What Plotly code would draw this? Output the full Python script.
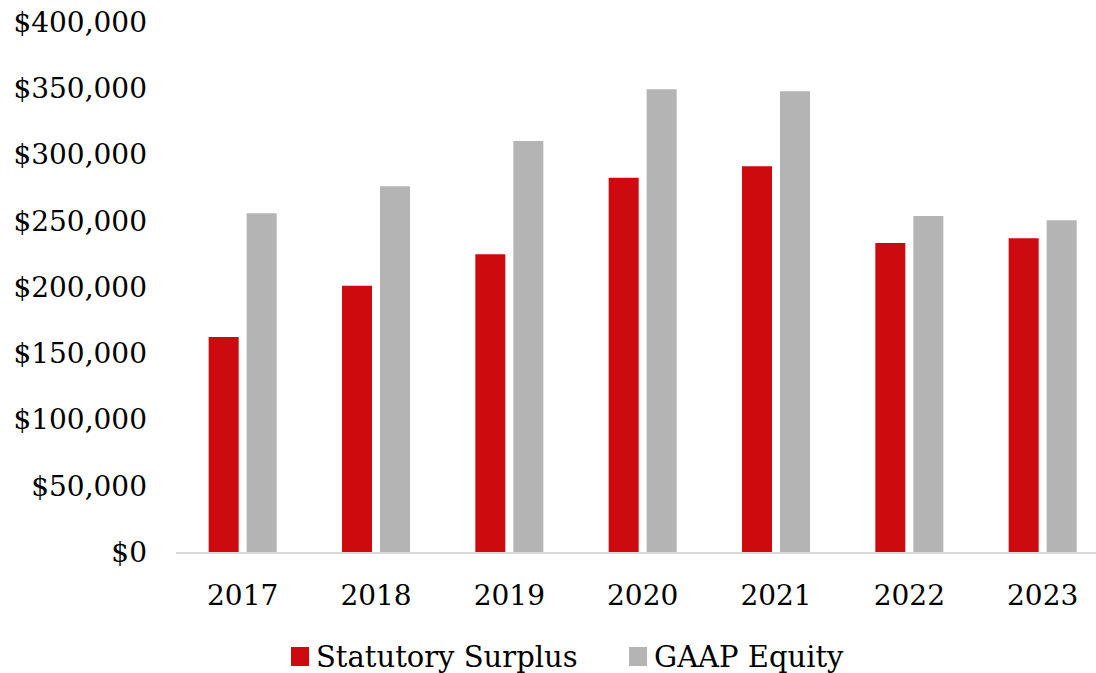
import plotly.graph_objects as go

years = ["2017", "2018", "2019", "2020", "2021", "2022", "2023"]
statutory_surplus = [162300, 201000, 224700, 282500, 291100, 233200, 236800]
gaap_equity = [255600, 276000, 310200, 349200, 347700, 253600, 250300]
series_names = ["Statutory Surplus", "GAAP Equity"]
y_ticks = [0, 50000, 100000, 150000, 200000, 250000, 300000, 350000, 400000]
y_tick_labels = ["$" + f"{v:,}" for v in y_ticks]

RED = "#CD0A0E"
GRAY = "#B4B4B4"
FONT = "DejaVu Serif"
colors = [RED, GRAY]

fig = go.Figure()
fig.add_trace(go.Bar(x=years, y=statutory_surplus, name=series_names[0],
                     marker=dict(color=RED, line=dict(width=0)), showlegend=False))
fig.add_trace(go.Bar(x=years, y=gaap_equity, name=series_names[1],
                     marker=dict(color=GRAY, line=dict(width=0)), showlegend=False))

# Legend drawn below the plot (squares + labels) in paper coordinates
legend_sq_x = [(0.125, 0.1446), (0.4924, 0.512)]
legend_txt_x = [0.1500, 0.5170]
for name, col, (sx0, sx1), tx in zip(series_names, colors, legend_sq_x, legend_txt_x):
    fig.add_shape(type="rect", xref="paper", yref="paper", x0=sx0, x1=sx1,
                  y0=-0.2151, y1=-0.1792, fillcolor=col, line=dict(width=0))
    fig.add_annotation(xref="paper", yref="paper", x=tx, y=-0.198, xanchor="left",
                       yanchor="middle", text=name, showarrow=False,
                       font=dict(family=FONT, size=29, color="black"))

fig.update_layout(
    width=1096, height=673,
    margin=dict(l=176, r=0, t=22, b=121, autoexpand=False),
    paper_bgcolor="white", plot_bgcolor="white",
    barmode="group", bargap=0.43, bargroupgap=0.21,
    font=dict(family=FONT, size=28, color="black"),
    showlegend=False,
    xaxis=dict(type="category", range=[-0.5, 6.4], showgrid=False, zeroline=False,
               showline=True, linecolor="#D9D9D9", linewidth=2, ticks="",
               ticklabelstandoff=17, tickfont=dict(family=FONT, size=28, color="black")),
    yaxis=dict(range=[0, 400000], tickmode="array", tickvals=y_ticks, ticktext=y_tick_labels,
               showgrid=False, zeroline=False, showline=False, ticks="",
               ticklabelstandoff=28, tickfont=dict(family=FONT, size=28, color="black")),
)

fig.write_html("out.html")
